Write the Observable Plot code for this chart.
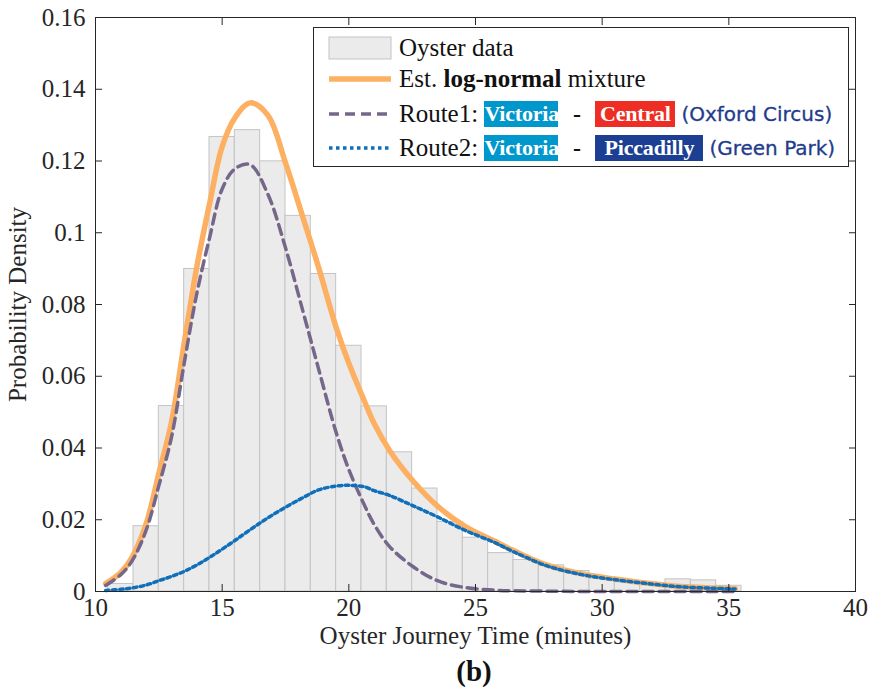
<!DOCTYPE html>
<html>
<head>
<meta charset="utf-8">
<script src="https://cdn.jsdelivr.net/npm/d3@7"></script>
<script src="https://cdn.jsdelivr.net/npm/@observablehq/plot@0.6"></script>
<style>
  body { margin: 0; background: #fff; }
  #wrap { position: relative; width: 870px; height: 695px; font-family: "Liberation Serif", serif; }
  #caption { position: absolute; left: 424px; width: 100px; top: 655px; text-align: center;
             font: bold 29px "Liberation Serif", serif; color: #111; }
  #legend { position: absolute; left: 313px; top: 27px; width: 536px; height: 140px;
            border: 1px solid #262626; background: #fff; box-sizing: border-box; }
  .row { position: absolute; left: 0; height: 30px; display: flex; align-items: center;
         font: 25px "Liberation Serif", serif; color: #111; white-space: nowrap; }
  .row svg { margin-left: 14px; margin-right: 7px; }
  .lab { display: flex; align-items: center; white-space: pre; }
  .badge { display: inline-block; color: #fff; font: bold 22px "Liberation Serif", serif;
           text-align: center; line-height: 26px; letter-spacing: -0.2px; }
  .dash { display: inline-block; width: 37px; text-align: center; font: 900 24px "Liberation Serif", serif; }
  .stn { font: 20px "DejaVu Sans", sans-serif; color: #1f3c8c; margin-left: 6px; -webkit-text-stroke: 0.3px #1f3c8c; }
</style>
</head>
<body>
<div id="wrap"></div>
<script>
// Histogram of Oyster journey times: 1-minute bins centred on whole minutes
const binStart = [10.5, 11.5, 12.5, 13.5, 14.5, 15.5, 16.5, 17.5, 18.5, 19.5, 20.5, 21.5, 22.5,
                  23.5, 24.5, 25.5, 26.5, 27.5, 28.5, 29.5, 30.5, 31.5, 32.5, 33.5, 34.5];
const binDensity = [0.0021, 0.0182, 0.0517, 0.0899, 0.1267, 0.1286, 0.1199, 0.1047, 0.0885, 0.0685,
                    0.0516, 0.0388, 0.0287, 0.0194, 0.0150, 0.0107, 0.0088, 0.0073, 0.0057, 0.0036,
                    0.0026, 0.0020, 0.0034, 0.0031, 0.0016];

// Fitted densities sampled along the journey-time axis (minutes)
const fitTime = [10.4, 11.0, 11.45, 12.0, 12.5, 13.0, 13.5, 14.0, 14.5, 15.0, 15.5, 16.1, 16.8,
                 17.5, 18.2, 18.8, 19.5, 20.0, 20.6, 21.0, 21.6, 22.5, 23.5, 24.6, 25.7, 26.5,
                 27.8, 29.2, 30.5, 31.8, 33.1, 34.4, 35.25];
const mixture = [0.0022, 0.0053, 0.0096, 0.0189, 0.0329, 0.0472, 0.0692, 0.0905, 0.1080, 0.1240,
                 0.1320, 0.1362, 0.1328, 0.1195, 0.1040, 0.0905, 0.0736, 0.0636, 0.0533, 0.0468,
                 0.0394, 0.0311, 0.0238, 0.0181, 0.0142, 0.0114, 0.0074, 0.0049, 0.0035, 0.0023,
                 0.0014, 0.0010, 0.0008];
const route1 = [0.0017, 0.0047, 0.0086, 0.0171, 0.0295, 0.0430, 0.0636, 0.0831, 0.0985, 0.1122,
                0.1178, 0.1190, 0.1108, 0.0958, 0.0778, 0.0622, 0.0443, 0.0340, 0.0243, 0.0187,
                0.0126, 0.0071, 0.0030, 0.0011, 0.0004, 0.0002, 0.0001, 0, 0, 0, 0, 0, 0];
const route2 = [0.0003, 0.0006, 0.0010, 0.0018, 0.0030, 0.0042, 0.0056, 0.0074, 0.0095, 0.0118,
                0.0142, 0.0172, 0.0205, 0.0235, 0.0262, 0.0283, 0.0294, 0.0296, 0.0292, 0.0281,
                0.0268, 0.0240, 0.0208, 0.0170, 0.0138, 0.0111, 0.0072, 0.0047, 0.0033, 0.0022,
                0.0013, 0.0009, 0.0007];

const xTicks = [10, 15, 20, 25, 30, 35, 40];
const yTicks = [0, 0.02, 0.04, 0.06, 0.08, 0.1, 0.12, 0.14, 0.16];

const bins = binStart.map((s, i) => ({x1: s, x2: s + 1, y: binDensity[i]}));
const curve = (ys) => fitTime.map((t, i) => ({t, v: ys[i]}));

const axisColor = "#262626";
const serif = "Liberation Serif";
const chart = Plot.plot({
  width: 870,
  height: 656,
  marginLeft: 95,
  marginRight: 15,
  marginTop: 17,
  marginBottom: 65,
  style: {fontFamily: serif, fontSize: "24px", color: axisColor, background: "#fff"},
  x: {domain: [10, 40]},
  y: {domain: [0, 0.16]},
  marks: [
    Plot.rectY(bins, {x1: "x1", x2: "x2", y: "y", fill: "#ebebeb", stroke: "#c4c4c4", strokeWidth: 1}),
    Plot.line(curve(mixture), {x: "t", y: "v", stroke: "#fdb062", strokeWidth: 5.5, curve: "catmull-rom"}),
    Plot.line(curve(route1), {x: "t", y: "v", stroke: "#75678a", strokeWidth: 3.5,
      strokeDasharray: "10,6", curve: "catmull-rom"}),
    Plot.line(curve(route2), {x: "t", y: "v", stroke: "#0f6fba", strokeWidth: 3.5,
      strokeDasharray: "3.5,3.5", curve: "catmull-rom"}),
    Plot.frame({stroke: axisColor, strokeWidth: 1}),
    Plot.axisX({ticks: xTicks, tickSize: -7, tickPadding: 14, tickFormat: d => String(d),
      fontFamily: serif, fontSize: 25, label: null}),
    Plot.axisX({ticks: [], label: "Oyster Journey Time (minutes)", labelAnchor: "center",
      labelArrow: "none", labelOffset: 52, fontFamily: serif, fontSize: 25}),
    Plot.axisX({anchor: "top", ticks: xTicks, tickSize: -7, tickFormat: () => "", label: null}),
    Plot.axisY({ticks: yTicks, tickSize: -7, tickPadding: 17, tickFormat: d => String(d),
      fontFamily: serif, fontSize: 25,
      label: "Probability Density", labelAnchor: "center", labelArrow: "none", labelOffset: 87}),
    Plot.axisY({anchor: "right", ticks: yTicks, tickSize: -7, tickFormat: () => "", label: null})
  ]
});

const wrap = document.getElementById("wrap");
wrap.appendChild(chart);

// Legend: swatches drawn with the same styles as the curves
const swatch = (inner) =>
  `<svg width="64" height="26" viewBox="0 0 64 26">${inner}</svg>`;
const badge = (text, bg, w) =>
  `<span class="badge" style="background:${bg};width:${w}px">${text}</span>`;
const legendRows = [
  {top: 5, sw: `<rect x="1" y="2" width="62" height="22" fill="#ebebeb" stroke="#c4c4c4"/>`,
   html: `Oyster data`},
  {top: 36, sw: `<line x1="1" x2="63" y1="13" y2="13" stroke="#fdb062" stroke-width="5.5"/>`,
   html: `Est. <b>log-normal</b> mixture`},
  {top: 71, sw: `<line x1="1" x2="63" y1="13" y2="13" stroke="#75678a" stroke-width="3.5" stroke-dasharray="10,6"/>`,
   html: `Route1: ${badge("Victoria", "#0098cc", 74)}<span class="dash">-</span>${badge("Central", "#ee2e24", 80)}<span class="stn">(Oxford Circus)</span>`},
  {top: 105, sw: `<line x1="1" x2="63" y1="13" y2="13" stroke="#0f6fba" stroke-width="3.5" stroke-dasharray="3.5,3.5"/>`,
   html: `Route2: ${badge("Victoria", "#0098cc", 74)}<span class="dash">-</span>${badge("Piccadilly", "#1c3f94", 108)}<span class="stn">(Green Park)</span>`}
];
const legend = document.createElement("div");
legend.id = "legend";
legend.innerHTML = legendRows.map(r =>
  `<div class="row" style="top:${r.top}px">${swatch(r.sw)}<span class="lab">${r.html}</span></div>`).join("");
wrap.appendChild(legend);

const cap = document.createElement("div");
cap.id = "caption";
cap.textContent = "(b)";
wrap.appendChild(cap);
</script>
</body>
</html>
